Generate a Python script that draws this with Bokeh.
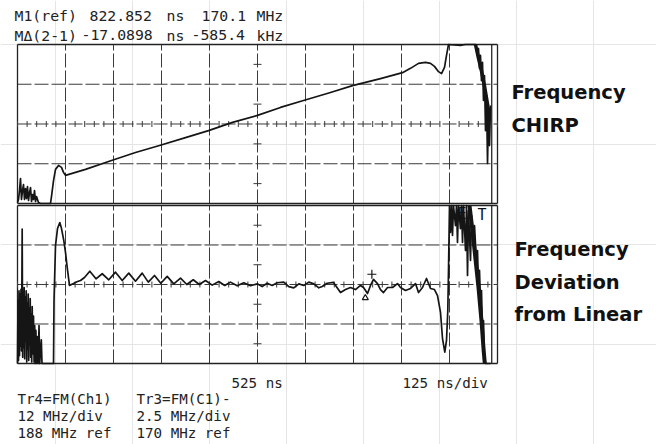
from bokeh.plotting import figure
from bokeh.models import Range1d, Label
from bokeh.embed import file_html
from bokeh.resources import INLINE
import numpy as np

# ---------------- data (time in ns, frequency in MHz) ----------------
X_DIV = [-100, 25, 150, 275, 400, 525, 650, 775, 900, 1025, 1150]   # 125 ns/div, 525 ns centre
TOP_DIV = [164, 176, 188, 200, 212]          # Tr4: 12 MHz/div
BOT_DIV = [-5.0, -2.5, 0.0, 2.5, 5.0]        # Tr3: 2.5 MHz/div deviation about 170 MHz ref
TOP_HALF = [170, 182, 194, 206]
BOT_HALF = [-3.75, -1.25, 1.25, 3.75]
MINOR_T = list(range(-100, 1151, 25))

# Tr4 : FM(Ch1)  frequency chirp
TOP_T = [-100.0, -97.4, -94.8, -92.2, -89.6, -87.0, -84.4, -81.8, -79.2, -76.6, -74.0, -71.4,
         -68.7, -66.1, -63.5, -60.9, -58.3, -55.7, -53.1, -50.5, -45.3, -40.1, -14.1, -11.5,
         -6.2, -1.0, 6.8, 14.6, 19.8, 25.0, 77.1, 144.8, 207.3, 269.8, 337.5, 397.4, 459.9,
         525.0, 584.9, 644.8, 715.1, 772.4, 845.3, 902.6, 923.4, 944.3, 962.5, 975.5, 985.9,
         996.4, 1004.2, 1012.0, 1017.2, 1022.4, 1053.6, 1066.0, 1092.7, 1097.9, 1100.5, 1103.1,
         1105.7, 1108.3, 1110.9, 1113.5, 1116.1, 1118.8, 1121.4, 1124.0, 1126.6, 1129.2, 1131.8]
TOP_F = [164.3, 165.2, 167.9, 171.5, 165.2, 167.9, 169.7, 165.2, 168.5, 165.5, 169.1, 164.9,
         167.3, 168.8, 164.6, 166.7, 165.2, 167.9, 164.6, 166.1, 164.3, 164.0, 164.0, 166.1,
         170.9, 174.3, 175.5, 174.9, 173.4, 172.5, 174.3, 177.0, 179.4, 181.5, 183.9, 186.0, 188.5,
         190.6, 193.0, 195.1, 197.5, 199.6, 201.7, 203.5, 204.8, 206.3, 206.6, 206.3, 205.4,
         203.8, 203.2, 205.1, 208.7, 212.0, 211.7, 212.0, 212.0, 208.7, 210.8, 204.8,
         208.7, 201.1, 206.6, 195.1, 202.6, 186.0, 196.6, 176.1, 192.1, 181.5, 193.6]
TOP_BAND_T = [1092.7, 1100.5, 1108.3, 1116.1, 1124.0, 1129.2]
TOP_BAND_F = [212.0, 207.8, 204.0, 199.5, 194.0, 190.0]

# Tr3 : FM(C1) - linear   frequency deviation (MHz)
BOT_T = [-100.0, -98.7, -97.4, -96.1, -94.8, -93.5, -92.2, -90.9, -89.6, -87.8, -86.5, -85.2,
         -83.9, -82.6, -81.3, -79.9, -78.6, -77.3, -76.0, -74.7, -73.4, -72.1, -70.8, -69.5,
         -68.2, -66.9, -65.6, -64.3, -63.0, -61.7, -60.4, -58.3, -56.8, -55.2, -53.6, -52.1,
         -50.0, -47.9, -45.8, -44.0, -42.2, -38.0, -36.2,
         -6.2, -4.9, -1.0, 4.2, 10.2, 14.6, 20.6, 25.0, 29.4, 35.4, 45.8, 56.3, 64.1, 74.5,
         88.3, 104.4, 120.6, 137.8, 155.2, 172.7, 189.8, 207.3, 224.7, 240.6, 256.8, 273.2,
         289.8, 307.0, 324.5, 340.9, 357.6, 373.4, 389.6, 407.0, 424.2, 439.6, 454.7, 472.1,
         489.3, 506.8, 524.2,
         537.2, 550.3, 563.3, 576.3, 593.5, 606.5, 619.5, 632.6, 645.6, 658.6, 671.6, 684.7,
         693.5, 706.5, 722.9, 741.2, 754.2, 767.2, 780.2, 793.2, 801.1, 811.5, 819.3, 827.1,
         837.5, 845.3, 853.1, 863.6, 876.6, 889.6, 897.4, 910.4, 923.5, 936.5, 944.3, 954.7,
         965.1, 975.5, 985.9, 993.8, 1001.6, 1006.8, 1012.8, 1017.2, 1020.6, 1022.4, 1025.0,
         1027.6, 1030.2, 1032.8, 1035.4, 1040.6, 1043.2, 1045.8, 1048.4, 1053.6, 1056.3,
         1058.9, 1061.5, 1066.7, 1069.3, 1071.9, 1074.5, 1079.7, 1082.3, 1087.5, 1090.1,
         1095.3, 1097.9, 1100.5, 1103.1, 1105.7, 1108.3, 1110.9, 1113.5, 1116.1, 1118.8, 1131.8]
BOT_DEV = [-5.0, -1.0, -4.8, -0.4, -4.5, -0.6, -3.9, -0.3, -4.2, 3.5, -4.6, -0.5,
           -4.0, -0.2, -4.7, -0.8, -3.6, -0.4, -4.9, -1.2, -4.1, -0.6, -4.8, -1.5,
           -3.8, -0.9, -4.6, -1.9, -4.9, -1.4, -4.4, -2.0, -4.9, -2.6, -5.0, -2.9,
           -5.0, -3.3, -5.0, -2.6, -5.0, -3.5, -5.0,
           -5.0, -1.01, 2.47, 3.54, 3.92, 3.54, 2.78, 2.03, 1.08, -0.06, 0.06, 0.19, 0.25, 0.44,
           0.84, 0.36, 0.68, 0.30, 0.78, 0.25, 0.72, 0.21, 0.72, 0.15, 0.57, 0.08,
           0.51, 0.04, 0.40, 0.00, 0.30, 0.00, 0.25, -0.04, 0.19, -0.06, 0.15, -0.08,
           0.11, -0.08, 0.04,
           -0.13, 0.08, -0.06, 0.11, 0.15, -0.13, -0.21, 0.04, -0.06, 0.15, 0.04, -0.21,
           -0.13, 0.08, 0.13, -0.51, -0.32, -0.19, -0.32, -0.06, -0.19, -0.57, -0.06, 0.32,
           0.06, -0.32, -0.51, -0.19, -0.19, 0.06, -0.19, -0.38, -0.25, 0.06, -0.51, -0.19,
           0.38, -0.25, -0.32, -0.70, -1.77, -3.42, -4.28, -3.54, -1.65, 0.89, 5.0,
           3.29, 5.0, 3.10, 5.0, 3.73, 5.0, 2.66, 5.0, 3.54, 5.0,
           2.66, 5.0, 2.15, 5.0, 0.57, 4.68, 1.52, 4.37, 2.78, 3.73,
           1.39, 2.15, -0.06, 0.89, -1.01, -0.38, -2.91, -2.28, -4.68, -5.0, -5.0]
BOT_BAND_T = [1077.1, 1084.9, 1092.7, 1100.5, 1108.3, 1114.0, 1117.0]
BOT_BAND_DEV = [5.0, 3.4, 1.6, -0.2, -2.3, -4.2, -5.0]

M1_T, M1_DEV = 822.852, 0.65      # marker 1
M2_T, M2_DEV = 805.762, -0.85     # marker 2 (M1 - 17.0898 ns)
CURSOR_T = 1135.0

# ---------------- figure ----------------
W, H = 656, 444
p = figure(width=W, height=H, x_range=Range1d(-144.271, 1564.062), y_range=Range1d(0, H),
           x_axis_location=None, y_axis_location=None, toolbar_location=None,
           output_backend="svg", min_border=0, outline_line_color=None)
p.extra_y_ranges = {"top": Range1d(91.245, 225.283), "bot": Range1d(-10.127, 17.975)}

GRID = "#3a3a3a"
INK = "#151515"

for rn, divs, half in (("top", TOP_DIV, TOP_HALF), ("bot", BOT_DIV, BOT_HALF)):
    lo, hi = divs[0], divs[-1]
    inner_x = X_DIV[1:-1]
    p.segment(x0=inner_x, y0=[lo] * len(inner_x), x1=inner_x, y1=[hi] * len(inner_x),
              y_range_name=rn, line_color=GRID, line_width=1, line_dash="14 3")
    inner_y = divs[1:-1]
    p.segment(x0=[X_DIV[0]] * len(inner_y), y0=inner_y, x1=[X_DIV[-1]] * len(inner_y), y1=inner_y,
              y_range_name=rn, line_color=GRID, line_width=1, line_dash="14 3")
    # solid frame
    p.segment(x0=[X_DIV[0], X_DIV[-1], X_DIV[0], X_DIV[0]],
              y0=[lo, lo, lo, hi],
              x1=[X_DIV[0], X_DIV[-1], X_DIV[-1], X_DIV[-1]],
              y1=[hi, hi, lo, hi],
              y_range_name=rn, line_color="#222222", line_width=1.3)
    # minor ticks on centre lines
    mid = divs[2]
    p.scatter(x=MINOR_T, y=[mid] * len(MINOR_T), marker="dash", angle=np.pi / 2, size=6,
              y_range_name=rn, line_color=GRID, line_width=1)
    p.scatter(x=[X_DIV[5]] * len(half), y=half, marker="dash", size=8,
              y_range_name=rn, line_color=GRID, line_width=1)
    # cursor line
    p.segment(x0=[CURSOR_T], y0=[lo], x1=[CURSOR_T], y1=[hi], y_range_name=rn,
              line_color=INK, line_width=1.2)

# traces
p.line(TOP_T, TOP_F, y_range_name="top", line_color=INK, line_width=1.7, line_join="round")
p.line(TOP_BAND_T, TOP_BAND_F, y_range_name="top", line_color=INK, line_width=3.5)
p.line(BOT_T, BOT_DEV, y_range_name="bot", line_color=INK, line_width=1.7, line_join="round")
p.line(BOT_BAND_T, BOT_BAND_DEV, y_range_name="bot", line_color=INK, line_width=4)

# markers
p.scatter(x=[M1_T], y=[M1_DEV], y_range_name="bot", marker="cross", size=9,
          line_color=INK, line_width=1.2)
p.scatter(x=[M2_T], y=[M2_DEV], y_range_name="bot", marker="triangle", size=6,
          line_color=INK, fill_color=None, line_width=1.2)


def lab(text, x, y_base, size, font="DejaVu Sans Mono", style="normal", align="left",
        color="#222222"):
    # x, y_base: pixel position from the picture's top-left corner (glyph baseline)
    y_adj = y_base - 0.3 * size
    p.add_layout(Label(x=x, y=H - y_adj, x_units="screen", y_units="screen", text=text,
                       text_font=font, text_font_size=f"{size}px", text_font_style=style,
                       text_align=align, text_baseline="alphabetic", text_color=color))


# header (marker read-outs)
for txt, x in (("M1(ref)", 14), ("822.852", 89), ("ns", 166), ("170.1", 201), ("MHz", 256)):
    lab(txt, x, 19.5, 14.8)
for txt, x in (("MΔ(2-1)", 14), ("-17.0898", 81), ("ns", 166), ("-585.4", 191), ("kHz", 256)):
    lab(txt, x, 39, 14.8)

# footer
lab("525 ns", 231, 387, 14.2)
lab("125 ns/div", 402, 387, 14.2)
lab("Tr4=FM(Ch1)", 17, 402.5, 14.2)
lab("12 MHz/div", 17, 420, 14.2)
lab("188 MHz ref", 17, 437, 14.2)
lab("Tr3=FM(C1)-", 136, 402.5, 14.2)
lab("2.5 MHz/div", 136, 420, 14.2)
lab("170 MHz ref", 136, 437, 14.2)
lab("E", 457, 218, 15, color="#111111")
lab("T", 477, 219, 15, color="#111111")

SANS = "DejaVu Sans"
lab("Frequency", 511, 98, 19.5, font=SANS, style="bold", color="#111111")
lab("CHIRP", 511, 131, 19.5, font=SANS, style="bold", color="#111111")
lab("Frequency", 514, 255, 19.5, font=SANS, style="bold", color="#111111")
lab("Deviation", 514, 288, 19.5, font=SANS, style="bold", color="#111111")
lab("from Linear", 514, 320, 19.5, font=SANS, style="bold", color="#111111")

open("out.html", "w").write(file_html(p, INLINE))
